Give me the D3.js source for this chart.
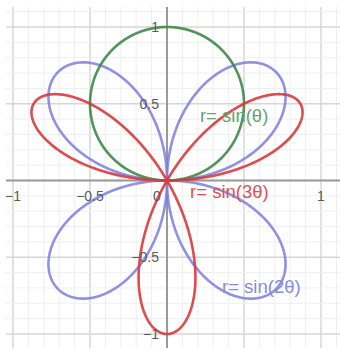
<!DOCTYPE html>
<html>
<head>
<meta charset="utf-8">
<script src="https://cdn.jsdelivr.net/npm/d3@7"></script>
<style>
  html, body { margin: 0; padding: 0; background: #fff; }
  svg { display: block; }
  text { font-family: "Liberation Sans", Arial, sans-serif; }
</style>
</head>
<body>
<script>
// Polar roses r = sin(k·θ), drawn on a graph-paper grid
const curveNames = ["r= sin(θ)", "r= sin(2θ)", "r= sin(3θ)"];
const curveK = [1, 2, 3];
const curveColors = ["#3f8a4a", "#7c7ce2", "#d9383c"];
const labelColors = ["#66a36c", "#8a8ade", "#e05050"];
const labelPos = [[0.214, 0.38], [0.357, -0.733], [0.15, -0.114]]; // anchor in data units

const xTicks = [-1, -0.5, 0, 1];
const xTickLabels = ["\u22121", "\u22120.5", "0", "1"];
const yTicks = [1, 0.5, -0.5, -1];
const yTickLabels = ["1", "0.5", "\u22120.5", "\u22121"];

const W = 340, H = 350;
const plotL = 6, plotR = 340, plotT = 7, plotB = 348;
const x = d3.scaleLinear().domain([-1, 1]).range([13, 321]);
const y = d3.scaleLinear().domain([-1, 1]).range([334, 27]);

const svg = d3.select("body").append("svg").attr("width", W).attr("height", H);

svg.append("defs").append("clipPath").attr("id", "plot")
  .append("rect").attr("x", plotL).attr("y", plotT)
  .attr("width", plotR - plotL).attr("height", plotB - plotT);

const g = svg.append("g").attr("clip-path", "url(#plot)");

// grid: minor every 0.1, major every 0.5
const xMin = x.invert(plotL), xMax = x.invert(plotR);
const yMin = y.invert(plotB), yMax = y.invert(plotT);
const minor = d3.range(-12, 13).map(i => i / 10);
const isMajor = v => Math.abs(v * 2 - Math.round(v * 2)) < 1e-9;

g.selectAll(".vx").data(minor.filter(v => v >= xMin && v <= xMax)).join("line")
  .attr("x1", d => x(d)).attr("x2", d => x(d)).attr("y1", plotT).attr("y2", plotB)
  .attr("stroke", d => isMajor(d) ? "#d6d6d6" : "#efefef")
  .attr("stroke-width", d => isMajor(d) ? 1.5 : 1);
g.selectAll(".hy").data(minor.filter(v => v >= yMin && v <= yMax)).join("line")
  .attr("y1", d => y(d)).attr("y2", d => y(d)).attr("x1", plotL).attr("x2", plotR)
  .attr("stroke", d => isMajor(d) ? "#d6d6d6" : "#efefef")
  .attr("stroke-width", d => isMajor(d) ? 1.5 : 1);

// axes
g.append("line").attr("x1", plotL).attr("x2", plotR).attr("y1", y(0)).attr("y2", y(0))
  .attr("stroke", "#9a9a9a").attr("stroke-width", 2);
g.append("line").attr("x1", x(0)).attr("x2", x(0)).attr("y1", plotT).attr("y2", plotB)
  .attr("stroke", "#9a9a9a").attr("stroke-width", 2);

// tick labels
svg.selectAll(".xt").data(xTicks).join("text")
  .attr("x", d => d === 0 ? x(d) - 10 : x(d))
  .attr("y", y(0) + 20)
  .attr("text-anchor", "middle").attr("font-size", 14).attr("fill", "#5a5a5a")
  .text((d, i) => xTickLabels[i]);
svg.selectAll(".yt").data(yTicks).join("text")
  .attr("x", x(0) - 8).attr("y", d => y(d) + 5)
  .attr("text-anchor", "end").attr("font-size", 14).attr("fill", "#5a5a5a")
  .text((d, i) => yTickLabels[i]);

// curves
const thetas = d3.range(0, 2 * Math.PI + 0.0005, 0.005);
const line = d3.line().x(p => x(p[0])).y(p => y(p[1]));
const order = [1, 0, 2];
order.forEach(i => {
  const k = curveK[i];
  const pts = thetas.map(t => {
    const r = Math.sin(k * t);
    return [r * Math.cos(t), r * Math.sin(t)];
  });
  g.append("path").attr("d", line(pts)).attr("fill", "none")
    .attr("stroke", curveColors[i]).attr("stroke-width", 2.6)
    .attr("stroke-opacity", i === 1 ? 0.85 : 0.9);
});

// curve labels
curveNames.forEach((name, i) => {
  svg.append("text")
    .attr("x", x(labelPos[i][0])).attr("y", y(labelPos[i][1]))
    .attr("font-size", 18.5).attr("fill", labelColors[i])
    .text(name);
});
</script>
</body>
</html>
